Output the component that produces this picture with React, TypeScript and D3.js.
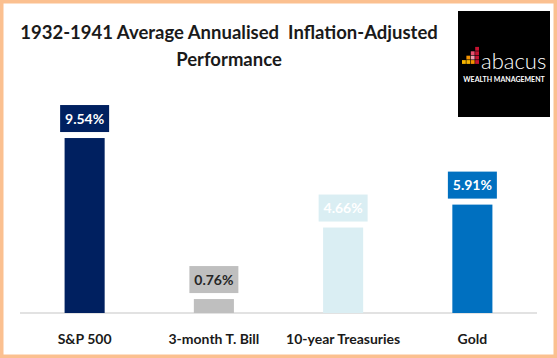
import React, { useEffect, useRef } from 'react';
import * as d3 from 'd3';

const categories = ['S&P 500', '3-month T. Bill', '10-year Treasuries', 'Gold'];
const values = [9.54, 0.76, 4.66, 5.91];
const barColors = ['#002060', '#BFBFBF', '#DAEEF3', '#0070C0'];
const labelColors = ['#FFFFFF', '#262626', '#FFFFFF', '#FFFFFF'];
const titleLines = ['1932-1941 Average Annualised  Inflation-Adjusted', 'Performance'];

const W = 557;
const H = 358;

const App = () => {
  const chartRef = useRef<HTMLDivElement>(null);

  useEffect(() => {
    document.body.style.margin = '0';
    if (!chartRef.current) return;
    d3.select(chartRef.current).selectAll('*').remove();

    const svg = d3.select(chartRef.current)
      .append('svg')
      .attr('width', W)
      .attr('height', H)
      .style('display', 'block')
      .style('font-family', 'Lato, "Open Sans", sans-serif');

    // frame
    svg.append('rect')
      .attr('x', 1.75).attr('y', 1.75)
      .attr('width', W - 3.5).attr('height', H - 3.5)
      .attr('fill', '#ffffff')
      .attr('stroke', '#FBC090')
      .attr('stroke-width', 3.5);

    // title
    svg.selectAll('.title')
      .data(titleLines)
      .enter().append('text')
      .attr('class', 'title')
      .attr('x', 229)
      .attr('y', (d, i) => 39 + i * 27)
      .attr('text-anchor', 'middle')
      .attr('font-size', 18.5)
      .attr('font-weight', 700)
      .attr('fill', '#1a1a1a')
      .style('white-space', 'pre')
      .text(d => d);

    // logo
    const logo = svg.append('g');
    logo.append('rect')
      .attr('x', 458).attr('y', 11)
      .attr('width', 92).attr('height', 106)
      .attr('fill', '#000000');
    const squares = [
      [0, 0, '#F7B500'],
      [1, 0, '#F7B500'], [1, 1, '#F39200'],
      [2, 0, '#F39200'], [2, 1, '#F19CB0'], [2, 2, '#E8506E'],
      [3, 0, '#C41230'], [3, 1, '#C41230'], [3, 2, '#C41230'], [3, 3, '#C41230'],
    ];
    logo.selectAll('.sq')
      .data(squares)
      .enter().append('rect')
      .attr('class', 'sq')
      .attr('x', d => 462 + (d[0] as number) * 4.4)
      .attr('y', d => 64.5 - ((d[1] as number) + 1) * 4.4)
      .attr('width', 3.8)
      .attr('height', 3.8)
      .attr('fill', d => d[2] as string);
    logo.append('text')
      .attr('x', 481).attr('y', 69)
      .attr('font-size', 22)
      .attr('font-weight', 300)
      .attr('fill', '#ffffff')
      .text('abacus');
    logo.append('text')
      .attr('x', 504).attr('y', 82)
      .attr('text-anchor', 'middle')
      .attr('font-size', 7)
      .attr('font-weight', 700)
      .attr('fill', '#ffffff')
      .text('WEALTH MANAGEMENT');

    const x = d3.scaleBand()
      .domain(categories)
      .range([20, 537])
      .paddingInner(0.69)
      .paddingOuter(0.345);

    const y = d3.scaleLinear()
      .domain([0, 10])
      .range([313, 129.6]);

    const data = categories.map((c, i) => ({ c, v: values[i], i }));

    // baseline
    svg.append('line')
      .attr('x1', 20).attr('x2', 537)
      .attr('y1', y(0)).attr('y2', y(0))
      .attr('stroke', '#D9D9D9')
      .attr('stroke-width', 1.5);

    // bars
    svg.selectAll('.bar')
      .data(data)
      .enter().append('rect')
      .attr('class', 'bar')
      .attr('x', d => x(d.c)!)
      .attr('width', x.bandwidth())
      .attr('y', d => y(d.v))
      .attr('height', d => y(0) - y(d.v))
      .attr('fill', d => barColors[d.i]);

    // value label boxes
    const lab = svg.selectAll('.lab')
      .data(data)
      .enter().append('g')
      .attr('class', 'lab')
      .attr('transform', d => `translate(${x(d.c)! + x.bandwidth() / 2},${y(d.v) - 6})`);
    lab.append('rect')
      .attr('x', -24.5).attr('y', -27)
      .attr('width', 49).attr('height', 27)
      .attr('fill', d => barColors[d.i]);
    lab.append('text')
      .attr('y', -8.5)
      .attr('text-anchor', 'middle')
      .attr('font-size', 14)
      .attr('font-weight', 700)
      .attr('fill', d => labelColors[d.i])
      .text(d => `${d.v.toFixed(2)}%`);

    // category labels
    svg.selectAll('.cat')
      .data(data)
      .enter().append('text')
      .attr('class', 'cat')
      .attr('x', d => x(d.c)! + x.bandwidth() / 2)
      .attr('y', 344)
      .attr('text-anchor', 'middle')
      .attr('font-size', 14)
      .attr('font-weight', 700)
      .attr('fill', '#1a1a1a')
      .text(d => d.c);

    return () => {
      svg.remove();
    };
  }, []);

  return <div ref={chartRef} />;
};

export default App;
